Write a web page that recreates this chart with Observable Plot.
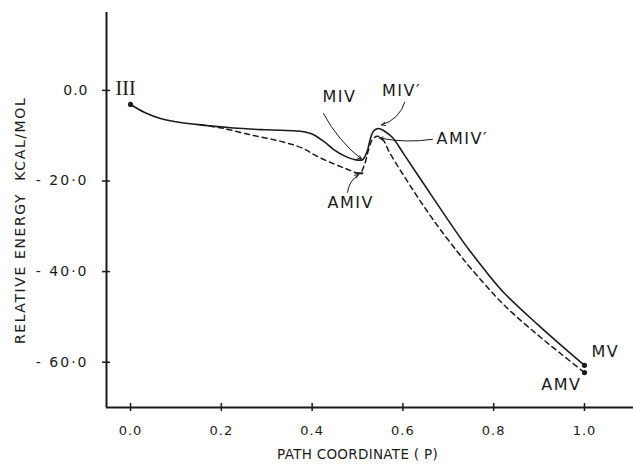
<!DOCTYPE html>
<html>
<head>
<meta charset="utf-8">
<script src="https://cdn.jsdelivr.net/npm/d3@7"></script>
<script src="https://cdn.jsdelivr.net/npm/@observablehq/plot@0.6"></script>
<style>
  html, body { margin: 0; padding: 0; background: #fff; }
  #chart { width: 633px; height: 469px; }
</style>
</head>
<body>
<div id="chart"></div>
<script>
// ---- data ----
const solidX = [0, 0.03, 0.066, 0.10, 0.154, 0.227, 0.30, 0.374, 0.40, 0.425, 0.447, 0.47, 0.495, 0.511, 0.521, 0.528, 0.535, 0.546, 0.558, 0.577, 0.601, 0.645, 0.694, 0.734, 0.749, 0.78, 0.822, 0.896, 0.95, 1.0];
const solidY = [-3.1, -4.8, -6.2, -6.9, -7.6, -8.3, -8.7, -9.0, -9.6, -11.2, -13.0, -14.4, -15.3, -15.3, -13.5, -10.8, -9.0, -8.4, -8.9, -10.4, -13.9, -20.5, -27.8, -33.6, -35.6, -39.6, -44.6, -51.6, -56.4, -60.7];
const dashX = [0.154, 0.20, 0.264, 0.337, 0.38, 0.41, 0.45, 0.48, 0.505, 0.515, 0.524, 0.533, 0.544, 0.557, 0.57, 0.623, 0.672, 0.72, 0.749, 0.822, 0.896, 0.95, 1.0];
const dashY = [-7.6, -8.3, -9.8, -11.4, -12.8, -14.5, -16.3, -17.5, -18.3, -16.5, -13.2, -10.8, -10.1, -11.0, -13.6, -22.1, -29.3, -35.6, -39.2, -47.3, -53.9, -58.3, -62.3];

const xTicks = [0, 0.2, 0.4, 0.6, 0.8, 1.0];
const xTickLabels = ["0.0", "0.2", "0.4", "0.6", "0.8", "1.0"];
const yTicks = [0, -20, -40, -60];
const yTickLabels = ["0.0", "- 20·0", "- 40·0", "- 60·0"];

const xTitle = "PATH COORDINATE ( P)";
const yTitle = "RELATIVE ENERGY  KCAL/MOL";

const pointNames = ["III", "MV", "AMV"];
const pointX = [0, 1.0, 1.0];
const pointY = [-3.1, -60.7, -62.3];

const labelText = ["MIV", "MIV′", "AMIV′", "AMIV", "MV", "AMV"];
const labelX = [0.460, 0.597, 0.731, 0.485, 1.046, 0.949];
const labelY = [-1.5, -0.2, -10.8, -24.9, -57.8, -64.9];

const serifLabel = ["III"];
const serifX = [-0.011];
const serifY = [0.3];

const arrowName = ["MIV", "MIV′", "AMIV′", "AMIV"];
const arrowX1 = [0.425, 0.604, 0.665, 0.478];
const arrowY1 = [-5.1, -2.6, -10.8, -22.5];
const arrowX2 = [0.509, 0.553, 0.548, 0.502];
const arrowY2 = [-15.2, -7.6, -10.5, -18.6];
const arrowBend = [-12, 30, 10, 25];

const markerX = [0.505];
const markerY = [-18.3];

// ---- build ----
const solid = solidX.map((x, i) => ({x, y: solidY[i]}));
const dashed = dashX.map((x, i) => ({x, y: dashY[i]}));
const xMin = -0.053, yMin = -70;
const ink = "#1b1b1b";

const arrowMarks = arrowName.map((n, i) =>
  Plot.arrow([n], {x1: [arrowX1[i]], y1: [arrowY1[i]], x2: [arrowX2[i]], y2: [arrowY2[i]],
    bend: arrowBend[i], stroke: ink, strokeWidth: 1, headLength: 6, headAngle: 50})
);

const dashSymbol = { draw(ctx, size) { ctx.moveTo(-3.5, -1); ctx.lineTo(3.5, -1); ctx.lineTo(3.5, 1); ctx.lineTo(-3.5, 1); ctx.closePath(); } };

const chart = Plot.plot({
  width: 633,
  height: 469,
  marginLeft: 106,
  marginRight: 0,
  marginTop: 12,
  marginBottom: 62,
  x: {domain: [xMin, 1.108], axis: null},
  y: {domain: [yMin, 17.2], axis: null},
  style: {fontFamily: "DejaVu Sans", background: "#fff", color: ink},
  marks: [
    // frame axes
    Plot.ruleY([yMin], {stroke: ink, strokeWidth: 2}),
    Plot.ruleX([xMin], {stroke: ink, strokeWidth: 2}),
    // crossing ticks
    Plot.ruleX(xTicks, {x: d => d, y1: yMin, y2: yMin, insetTop: -4, insetBottom: -4, stroke: ink, strokeWidth: 1.5}),
    Plot.ruleY(yTicks, {y: d => d, x1: xMin, x2: xMin, insetLeft: -4, insetRight: -4, stroke: ink, strokeWidth: 1.5}),
    // tick labels
    Plot.text(xTickLabels, {x: xTicks, text: d => d, frameAnchor: "bottom", lineAnchor: "middle", textAnchor: "middle", dy: 23, fontSize: 13, fill: ink}),
    Plot.text(yTickLabels, {y: yTicks, text: d => d, frameAnchor: "left", lineAnchor: "middle", dx: -18, textAnchor: "end", fontSize: 14, fill: ink}),
    // axis titles
    Plot.text([xTitle], {x: [0.5], frameAnchor: "bottom", lineAnchor: "middle", textAnchor: "middle", dy: 47, fontSize: 13.5, fill: ink}),
    Plot.text([yTitle], {y: [-28.7], frameAnchor: "left", lineAnchor: "middle", textAnchor: "middle", dx: -86, rotate: -90, fontSize: 14, fill: ink}),
    // curves
    Plot.line(dashed, {x: "x", y: "y", curve: "catmull-rom", stroke: ink, strokeWidth: 1.5, strokeDasharray: "5,4"}),
    Plot.line(solid, {x: "x", y: "y", curve: "catmull-rom", stroke: ink, strokeWidth: 1.6}),
    // points
    Plot.dot(pointNames, {x: pointX, y: pointY, r: 2.6, fill: ink}),
    Plot.dot(markerX, {x: markerX, y: markerY, symbol: dashSymbol, fill: ink, r: 3}),
    // annotations
    ...arrowMarks,
    Plot.text(labelText, {x: labelX, y: labelY, text: d => d, fontSize: 16, fill: ink}),
    Plot.text(serifLabel, {x: serifX, y: serifY, text: d => d, fontSize: 20, fontFamily: "Liberation Serif", fill: ink})
  ]
});

document.getElementById("chart").appendChild(chart);

// letter spacing to mimic the wide lettering of the original
const spacing = new Map();
labelText.forEach(t => spacing.set(t, "1.5px"));
yTickLabels.forEach(t => spacing.set(t, "2px"));
xTickLabels.forEach(t => spacing.set(t, "1px"));
spacing.set(yTitle, "1.6px");
spacing.set(xTitle, "0.3px");
d3.select(chart).selectAll("text").each(function() {
  const s = spacing.get(this.textContent);
  if (s) this.setAttribute("letter-spacing", s);
});
</script>
</body>
</html>
